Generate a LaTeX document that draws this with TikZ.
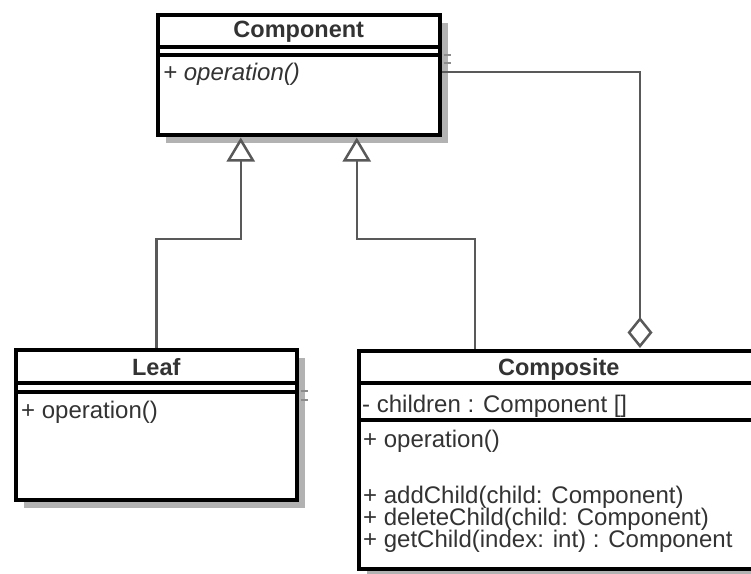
\documentclass[tikz,border=0pt]{standalone}
\usepackage{fontspec}
\setmainfont{Liberation Sans}
\usetikzlibrary{arrows.meta,calc,shadows}
\newcommand{\umlfont}{\fontsize{24}{22}\selectfont}
\newcommand{\umltitlefont}{\fontsize{23.5}{22}\selectfont\bfseries}
\begin{document}
\begin{tikzpicture}
	[
		x=1pt,
		y=-1pt,
		classbox/.style={draw=black, line width=3.5pt, fill=white, inner sep=0pt, anchor=north west,
			drop shadow={shadow xshift=8pt, shadow yshift=-8pt, fill=black!30, opacity=1}},
		sepline/.style={line width=3.5pt},
		sepshadow/.style={draw=black!45, line width=2pt},
		title/.style={font=\umltitlefont, text=black!80, anchor=base, inner sep=0pt},
		member/.style={font=\umlfont, text=black!80, anchor=base west, inner sep=0pt},
		abstract/.style={member, font=\umlfont\itshape},
		conn/.style={draw=black!65, line width=2.5pt},
		inherit/.style={conn, -{Triangle[open, width=28pt, length=24pt]}},
		aggr/.style={conn, -{Diamond[open, width=25pt, length=31pt]}}
	]
	\useasboundingbox (0,0) rectangle (751,573);
	% Classes
	\node[classbox, minimum width=282pt, minimum height=120pt] (component) at (156,13) {};
	\node[classbox, minimum width=281pt, minimum height=150pt] (leaf) at (14,348) {};
	\node[classbox, minimum width=400pt, minimum height=218pt] (composite) at (357,349) {};
	% Compartments
	\foreach \cls/\y in {component/34, component/42, leaf/35, leaf/44, composite/34, composite/71} {
			\draw[sepline] ($(\cls.north west)+(0,\y)$) -- ($(\cls.north east)+(0,\y)$);
		}
	\foreach \cls/\y in {component/42, component/50, leaf/43, leaf/52} {
			\draw[sepshadow] ($(\cls.north east)+(2,\y)$) -- ++(7,0);
		}
	% Texts
	\node[title] (componentname) at ($(component.north)+(0,24)$) {Component};
	\node[abstract] (componentop) at ($(component.north west)+(7,67)$) {+ operation()};
	\node[title] (leafname) at ($(leaf.north)+(0,27)$) {Leaf};
	\node[member] (leafop) at ($(leaf.north west)+(7,70)$) {+ operation()};
	\node[title] (compositename) at ($(composite.north)+(0,26)$) {Composite};
	\node[member] (children) at ($(composite.north west)+(5,63)$) {- children : Component []};
	\foreach \y/\text [count=\i] in {98/+ operation(), 154/+ addChild(child: Component),
			176/+ deleteChild(child: Component), 198/+ getChild(index: int) : Component} {
			\node[member] (method\i) at ($(composite.north west)+(6,\y)$) {\text};
		}
	% Relations
	\coordinate (leafhead) at ($(component.south)+(-58,1)$);
	\coordinate (compositehead) at ($(component.south)+(58,1)$);
	\coordinate (compositefoot) at ($(composite.north west)+(118,0)$);
	\coordinate (aggrfoot) at ($(component.north east)+(0,59)$);
	\coordinate (aggrhead) at ($(composite.north west)+(283,-1)$);
	\draw[inherit] (leaf.north) -- ++(0,-109) -| (leafhead);
	\draw[inherit] (compositefoot) -- ++(0,-110) -| (compositehead);
	\draw[aggr] (aggrfoot) -| (aggrhead);
\end{tikzpicture}
\end{document}
